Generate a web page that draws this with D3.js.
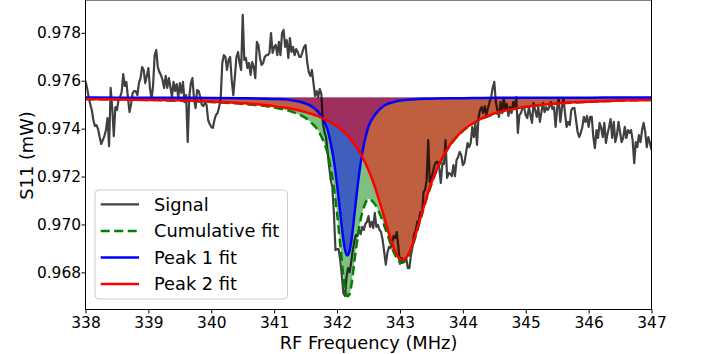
<!DOCTYPE html>
<html><head><meta charset="utf-8">
<script src="https://cdn.jsdelivr.net/npm/d3@7"></script>
<style>body{margin:0;background:#fff}svg{display:block}text{font-family:"DejaVu Sans",sans-serif}</style>
</head><body>
<svg id="chart" width="704" height="354"></svg>
<script>
// ---------- data ----------
const xTicks = [338, 339, 340, 341, 342, 343, 344, 345, 346, 347];
const yTicks = [0.968, 0.970, 0.972, 0.974, 0.976, 0.978];
const seriesNames = ["Signal", "Cumulative fit", "Peak 1 fit", "Peak 2 fit"];
const baseline = 0.97530;

const signalFreq = [
338.000,338.025,338.050,338.075,338.100,338.125,338.150,338.175,338.200,338.225,
338.250,338.275,338.300,338.325,338.350,338.375,338.400,338.425,338.450,338.475,
338.500,338.525,338.550,338.575,338.600,338.625,338.650,338.675,338.700,338.725,
338.750,338.775,338.800,338.825,338.850,338.875,338.900,338.925,338.950,338.975,
339.000,339.025,339.050,339.075,339.100,339.125,339.150,339.175,339.200,339.225,
339.250,339.275,339.300,339.325,339.350,339.375,339.400,339.425,339.450,339.475,
339.500,339.525,339.550,339.575,339.600,339.625,339.650,339.675,339.700,339.725,
339.750,339.775,339.800,339.825,339.850,339.875,339.900,339.925,339.950,339.975,
340.000,340.025,340.050,340.075,340.100,340.125,340.150,340.175,340.200,340.225,
340.250,340.275,340.300,340.325,340.350,340.375,340.400,340.425,340.450,340.475,
340.500,340.525,340.550,340.575,340.600,340.625,340.650,340.675,340.700,340.725,
340.750,340.775,340.800,340.825,340.850,340.875,340.900,340.925,340.950,340.975,
341.000,341.025,341.050,341.075,341.100,341.125,341.150,341.175,341.200,341.225,
341.250,341.275,341.300,341.325,341.350,341.375,341.400,341.425,341.450,341.475,
341.500,341.525,341.550,341.575,341.600,341.625,341.650,341.675,341.700,341.725,
341.750,341.775,341.800,341.825,341.850,341.875,341.900,341.925,341.950,341.975,
342.000,342.025,342.050,342.075,342.100,342.125,342.150,342.175,342.200,342.225,
342.250,342.275,342.300,342.325,342.350,342.375,342.400,342.425,342.450,342.475,
342.500,342.525,342.550,342.575,342.600,342.625,342.650,342.675,342.700,342.725,
342.750,342.775,342.800,342.825,342.850,342.875,342.900,342.925,342.950,342.975,
343.000,343.025,343.050,343.075,343.100,343.125,343.150,343.175,343.200,343.225,
343.250,343.275,343.300,343.325,343.350,343.375,343.400,343.425,343.450,343.475,
343.500,343.525,343.550,343.575,343.600,343.625,343.650,343.675,343.700,343.725,
343.750,343.775,343.800,343.825,343.850,343.875,343.900,343.925,343.950,343.975,
344.000,344.025,344.050,344.075,344.100,344.125,344.150,344.175,344.200,344.225,
344.250,344.275,344.300,344.325,344.350,344.375,344.400,344.425,344.450,344.475,
344.500,344.525,344.550,344.575,344.600,344.625,344.650,344.675,344.700,344.725,
344.750,344.775,344.800,344.825,344.850,344.875,344.900,344.925,344.950,344.975,
345.000,345.025,345.050,345.075,345.100,345.125,345.150,345.175,345.200,345.225,
345.250,345.275,345.300,345.325,345.350,345.375,345.400,345.425,345.450,345.475,
345.500,345.525,345.550,345.575,345.600,345.625,345.650,345.675,345.700,345.725,
345.750,345.775,345.800,345.825,345.850,345.875,345.900,345.925,345.950,345.975,
346.000,346.025,346.050,346.075,346.100,346.125,346.150,346.175,346.200,346.225,
346.250,346.275,346.300,346.325,346.350,346.375,346.400,346.425,346.450,346.475,
346.500,346.525,346.550,346.575,346.600,346.625,346.650,346.675,346.700,346.725,
346.750,346.775,346.800,346.825,346.850,346.875,346.900,346.925,346.950,346.975,
347.000];

const signalValues = [
0.97599,0.97570,0.97532,0.97503,0.97478,0.97436,0.97411,0.97415,0.97398,0.97365,
0.97336,0.97352,0.97369,0.97394,0.97444,0.97327,0.97570,0.97486,0.97369,0.97490,
0.97478,0.97519,0.97532,0.97553,0.97628,0.97578,0.97595,0.97528,0.97469,0.97503,
0.97549,0.97557,0.97557,0.97540,0.97590,0.97611,0.97657,0.97645,0.97590,0.97620,
0.97653,0.97570,0.97520,0.97582,0.97707,0.97728,0.97657,0.97636,0.97624,0.97603,
0.97570,0.97620,0.97570,0.97611,0.97574,0.97532,0.97595,0.97557,0.97586,0.97528,
0.97590,0.97549,0.97595,0.97511,0.97540,0.97344,0.97532,0.97590,0.97611,0.97528,
0.97486,0.97561,0.97557,0.97532,0.97499,0.97494,0.97511,0.97499,0.97436,0.97419,
0.97407,0.97403,0.97436,0.97457,0.97465,0.97490,0.97528,0.97674,0.97707,0.97699,
0.97645,0.97687,0.97699,0.97603,0.97540,0.97616,0.97699,0.97720,0.97674,0.97645,
0.97875,0.97687,0.97695,0.97653,0.97674,0.97624,0.97678,0.97657,0.97611,0.97762,
0.97749,0.97695,0.97666,0.97674,0.97699,0.97707,0.97707,0.97716,0.97799,0.97716,
0.97741,0.97749,0.97707,0.97762,0.97707,0.97799,0.97812,0.97741,0.97770,0.97695,
0.97778,0.97720,0.97741,0.97707,0.97732,0.97720,0.97699,0.97699,0.97720,0.97741,
0.97749,0.97678,0.97636,0.97620,0.97645,0.97590,0.97536,0.97557,0.97532,0.97565,
0.97545,0.97424,0.97386,0.97365,0.97298,0.97240,0.97186,0.97156,0.97048,0.96893,
0.96897,0.96897,0.96852,0.96790,0.96714,0.96701,0.96780,0.96818,0.96801,0.96843,
0.96893,0.96931,0.96956,0.96952,0.96977,0.96960,0.96990,0.96977,0.97002,0.97011,
0.97035,0.96990,0.97011,0.96985,0.97048,0.96990,0.96998,0.96977,0.96968,0.96935,
0.96885,0.96832,0.96881,0.96906,0.96901,0.96922,0.96952,0.96943,0.96968,0.96906,
0.96835,0.96860,0.96843,0.96852,0.96860,0.96818,0.96818,0.96872,0.96906,0.96960,
0.96973,0.97011,0.97014,0.97052,0.97039,0.97135,0.97144,0.97186,0.97352,0.97177,
0.97194,0.97219,0.97248,0.97261,0.97261,0.97236,0.97173,0.97257,0.97252,0.97352,
0.97194,0.97215,0.97211,0.97202,0.97248,0.97202,0.97269,0.97282,0.97303,0.97290,
0.97248,0.97257,0.97298,0.97340,0.97323,0.97340,0.97407,0.97365,0.97424,0.97332,
0.97449,0.97478,0.97490,0.97465,0.97494,0.97457,0.97486,0.97511,0.97532,0.97570,
0.97595,0.97511,0.97478,0.97449,0.97511,0.97465,0.97528,0.97482,0.97503,0.97453,
0.97490,0.97465,0.97511,0.97486,0.97532,0.97382,0.97457,0.97465,0.97490,0.97486,
0.97457,0.97444,0.97490,0.97457,0.97424,0.97507,0.97478,0.97449,0.97490,0.97428,
0.97469,0.97507,0.97469,0.97490,0.97478,0.97490,0.97511,0.97482,0.97490,0.97407,
0.97486,0.97528,0.97428,0.97486,0.97528,0.97465,0.97407,0.97428,0.97415,0.97478,
0.97486,0.97486,0.97436,0.97386,0.97365,0.97382,0.97407,0.97449,0.97428,0.97453,
0.97407,0.97449,0.97449,0.97365,0.97319,0.97394,0.97361,0.97424,0.97403,0.97365,
0.97424,0.97340,0.97378,0.97407,0.97440,0.97361,0.97428,0.97344,0.97373,0.97428,
0.97386,0.97344,0.97361,0.97407,0.97361,0.97394,0.97382,0.97394,0.97352,0.97256,
0.97344,0.97323,0.97373,0.97344,0.97394,0.97424,0.97386,0.97323,0.97365,0.97340,
0.97311];

const fitFreq = [338, 338.5, 339, 339.5, 340, 340.5, 341, 341.25, 341.5, 341.6,
341.7, 341.75, 341.8, 341.85, 341.9, 341.95, 342.0, 342.05, 342.1, 342.135,
342.165, 342.195, 342.23, 342.28, 342.33, 342.38, 342.43, 342.5, 342.6, 342.7,
342.8, 342.9, 343.0, 343.04, 343.1, 343.2, 343.3, 343.4, 343.5, 343.6,
343.8, 344.0, 344.25, 344.5, 345, 345.5, 346, 346.5, 347];

const peak1Fit = [
0.97530,0.97529,0.97529,0.97529,0.97528,0.97527,0.97524,0.97520,0.97505,0.97492,
0.97470,0.97451,0.97428,0.97394,0.97338,0.97265,0.97167,0.97050,0.96937,0.96885,
0.96870,0.96885,0.96937,0.97050,0.97167,0.97265,0.97338,0.97409,0.97457,0.97486,
0.97503,0.97511,0.97517,0.97518,0.97520,0.97522,0.97524,0.97525,0.97525,0.97526,
0.97527,0.97527,0.97528,0.97529,0.97529,0.97529,0.97529,0.97530,0.97530];

const peak2Fit = [
0.97524,0.97522,0.97520,0.97518,0.97513,0.97506,0.97494,0.97484,0.97469,0.97461,
0.97452,0.97446,0.97440,0.97434,0.97426,0.97418,0.97409,0.97399,0.97387,0.97378,
0.97371,0.97362,0.97351,0.97334,0.97314,0.97292,0.97267,0.97227,0.97158,0.97075,
0.96985,0.96904,0.96856,0.96852,0.96862,0.96918,0.97003,0.97093,0.97173,0.97239,
0.97334,0.97392,0.97436,0.97463,0.97491,0.97505,0.97512,0.97517,0.97520];

const cumulativeFit = [
0.97523,0.97522,0.97520,0.97516,0.97511,0.97503,0.97488,0.97473,0.97444,0.97422,
0.97392,0.97367,0.97338,0.97297,0.97234,0.97153,0.97046,0.96918,0.96785,0.96722,
0.96700,0.96706,0.96750,0.96854,0.96951,0.97027,0.97075,0.97106,0.97085,0.97031,
0.96958,0.96885,0.96843,0.96840,0.96852,0.96910,0.96997,0.97087,0.97168,0.97235,
0.97331,0.97390,0.97434,0.97461,0.97490,0.97504,0.97512,0.97517,0.97520];

// ---------- chart ----------
const L = 85.5, R = 651.5, T = 0, B = 309.5;
const svg = d3.select("#chart");
const x = d3.scaleLinear().domain([338, 347]).range([L, R]);
const y = d3.scaleLinear().domain([0.96645, 0.97937]).range([B, T]);

svg.append("defs").append("clipPath").attr("id", "clip")
  .append("rect").attr("x", L).attr("y", T).attr("width", R - L).attr("height", B - T);
const g = svg.append("g").attr("clip-path", "url(#clip)");

const sig = signalFreq.map((f, i) => ({f, v: signalValues[i]}));
const mk = arr => fitFreq.map((f, i) => ({f, v: arr[i]}));
const cum = mk(cumulativeFit), p1 = mk(peak1Fit), p2 = mk(peak2Fit);

const area = d3.area().curve(d3.curveMonotoneX)
  .x(d => x(d.f)).y0(y(baseline)).y1(d => y(d.v));
const lineC = d3.line().curve(d3.curveMonotoneX).x(d => x(d.f)).y(d => y(d.v));
const lineS = d3.line().x(d => x(d.f)).y(d => y(d.v));

g.append("path").attr("d", area(cum)).attr("fill", "#008000").attr("fill-opacity", 0.5);
g.append("path").attr("d", area(p1)).attr("fill", "#0000ff").attr("fill-opacity", 0.5);
g.append("path").attr("d", area(p2)).attr("fill", "#ff0000").attr("fill-opacity", 0.5);

g.append("path").attr("d", lineS(sig)).attr("fill", "none").attr("stroke", "#000")
  .attr("stroke-opacity", 0.75).attr("stroke-width", 2.2).attr("stroke-linejoin", "round");
g.append("path").attr("d", lineC(cum)).attr("fill", "none").attr("stroke", "#008000")
  .attr("stroke-width", 2.5).attr("stroke-dasharray", "9,4.5");
g.append("path").attr("d", lineC(p1)).attr("fill", "none").attr("stroke", "#0000ff")
  .attr("stroke-width", 2.5);
g.append("path").attr("d", lineC(p2)).attr("fill", "none").attr("stroke", "#ff0000")
  .attr("stroke-width", 2.5);

// axes
const xAxis = svg.append("g").attr("transform", `translate(0,${B})`)
  .call(d3.axisBottom(x).tickValues(xTicks).tickFormat(d3.format("d")).tickSize(4).tickPadding(3.5));
const yAxis = svg.append("g").attr("transform", `translate(${L},0)`)
  .call(d3.axisLeft(y).tickValues(yTicks).tickFormat(d3.format(".3f")).tickSize(4).tickPadding(0.5));
[xAxis, yAxis].forEach(a => {
  a.select(".domain").remove();
  a.selectAll(".tick line").attr("stroke", "#000").attr("stroke-width", 1);
  a.selectAll(".tick text").attr("fill", "#000").style("font-size", "15.4px")
    .style("font-family", '"DejaVu Sans", sans-serif');
});

// frame
svg.append("rect").attr("x", L).attr("y", T).attr("width", R - L).attr("height", B - T)
  .attr("fill", "none").attr("stroke", "#000").attr("stroke-width", 1);

// axis titles
svg.append("text").attr("x", (L + R) / 2).attr("y", 348.5).attr("text-anchor", "middle")
  .style("font-size", "17.8px").attr("fill", "#000").text("RF Frequency (MHz)");
svg.append("text").attr("transform", "translate(33.3,155.5) rotate(-90)").attr("text-anchor", "middle")
  .style("font-size", "17.8px").attr("fill", "#000").text("S11 (mW)");

// legend
const lg = svg.append("g");
lg.append("rect").attr("x", 95).attr("y", 190).attr("width", 192.5).attr("height", 109)
  .attr("rx", 4).attr("fill", "#fff").attr("fill-opacity", 0.8)
  .attr("stroke", "#cccccc").attr("stroke-width", 1);
const styles = [
  {c: "#000", o: 0.75, w: 2.2, dash: null},
  {c: "#008000", o: 1, w: 2.5, dash: "9,4.5"},
  {c: "#0000ff", o: 1, w: 2.5, dash: null},
  {c: "#ff0000", o: 1, w: 2.5, dash: null}
];
const rowY = [204.3, 231, 257.5, 284];
seriesNames.forEach((name, i) => {
  const s = styles[i];
  lg.append("line").attr("x1", 100.7).attr("x2", 139).attr("y1", rowY[i]).attr("y2", rowY[i])
    .attr("stroke", s.c).attr("stroke-opacity", s.o).attr("stroke-width", s.w)
    .attr("stroke-dasharray", s.dash);
  lg.append("text").attr("x", 154).attr("y", rowY[i] + 6.4).style("font-size", "17.8px")
    .attr("fill", "#000").text(name);
});
</script>
</body></html>
